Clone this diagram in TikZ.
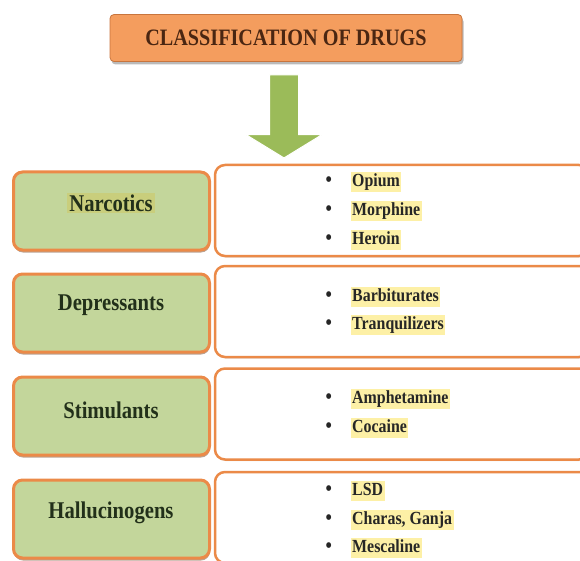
\documentclass[tikz,border=0pt]{standalone}
\usepackage{fontspec}
\newfontfamily\drugfont[FakeStretch=0.86]{Liberation Serif}
\usetikzlibrary{shapes.arrows,shadows}
\definecolor{boxorange}{HTML}{EB8A48}
\definecolor{titlefill}{HTML}{F49D5E}
\definecolor{classgreen}{HTML}{C3D69B}
\definecolor{arrowgreen}{HTML}{9BBB59}
\definecolor{hilite}{HTML}{FDF0A6}
\definecolor{narchilite}{HTML}{C9CE7C}
\definecolor{titleink}{HTML}{4A2612}
\definecolor{classink}{HTML}{22301A}
\definecolor{itemink}{HTML}{262626}
\begin{document}
\begin{tikzpicture}[x=1pt, y=-1pt]
    % Define styles
    \tikzset{
        titlebox/.style={draw=boxorange!85!black, fill=titlefill, rounded corners=4pt, line width=0.8pt, minimum width=352pt, minimum height=47pt, font=\drugfont\bfseries\fontsize{23.5}{26}\selectfont, text=titleink, drop shadow={shadow xshift=1.5pt, shadow yshift=-3pt, fill=black!45, opacity=0.6}},
        downarrow/.style={single arrow, fill=arrowgreen, draw=white, line width=1pt, shape border rotate=270, minimum height=83pt, inner sep=14pt, single arrow head extend=23.5pt, single arrow tip angle=117},
        classbox/.style={draw=boxorange, fill=classgreen, line width=3pt, rounded corners=9pt, minimum width=196pt, minimum height=78pt, drop shadow={shadow xshift=0.5pt, shadow yshift=-2.5pt, fill=black!50!boxorange, opacity=0.5}},
        drugbox/.style={draw=boxorange, fill=white, line width=2.5pt, rounded corners=10pt, minimum width=374pt, minimum height=91pt, drop shadow={shadow xshift=0.5pt, shadow yshift=-1.5pt, fill=black!30, opacity=0.4}},
        classlabel/.style={font=\drugfont\bfseries\fontsize{24}{26}\selectfont, text=classink, inner sep=2pt},
        drugitem/.style={anchor=west, fill=hilite, inner sep=1.5pt, text height=13pt, text depth=4pt, font=\drugfont\bfseries\fontsize{18.5}{21}\selectfont, text=itemink, label={[text=itemink, label distance=15pt, font=\drugfont\bfseries\fontsize{21}{21}\selectfont]left:\textbullet}}
    }
    \useasboundingbox (0,0) rectangle (580,561);

    % Title and arrow
    \node[titlebox] (title) at (286,38) {CLASSIFICATION OF DRUGS};
    \node[downarrow] (arrow) at (284,112) {};

    % Item boxes (right)
    \node[drugbox] (narcdrugs) at (402,210.5) {};
    \node[drugbox] (depdrugs) at (402,311.5) {};
    \node[drugbox] (stimdrugs) at (402,414) {};
    \node[drugbox] (halldrugs) at (402,517.5) {};

    % Class boxes (left)
    \node[classbox] (narc) at (111.5,211) {};
    \node[classbox] (dep) at (111.5,313) {};
    \node[classbox] (stim) at (111.5,416) {};
    \node[classbox] (hall) at (111.5,519) {};

    % Class labels
    \node[classlabel, fill=narchilite] (narclabel) at (111,203) {Narcotics};
    \node[classlabel] (deplabel) at (111,305) {Depressants};
    \node[classlabel] (stimlabel) at (111,410) {Stimulants};
    \node[classlabel] (halllabel) at (111,513) {Hallucinogens};

    % Drugs in each class
    \node[drugitem] (opium) at (350.5,182) {Opium};
    \node[drugitem] (morphine) at (350.5,211) {Morphine};
    \node[drugitem] (heroin) at (350.5,240) {Heroin};
    \node[drugitem] (barb) at (350.5,297) {Barbiturates};
    \node[drugitem] (tranq) at (350.5,325) {Tranquilizers};
    \node[drugitem] (amph) at (350.5,399) {Amphetamine};
    \node[drugitem] (cocaine) at (350.5,428) {Cocaine};
    \node[drugitem] (lsd) at (350.5,491) {LSD};
    \node[drugitem] (charas) at (350.5,520) {Charas, Ganja};
    \node[drugitem] (mescaline) at (350.5,548) {Mescaline};

\end{tikzpicture}
\end{document}
